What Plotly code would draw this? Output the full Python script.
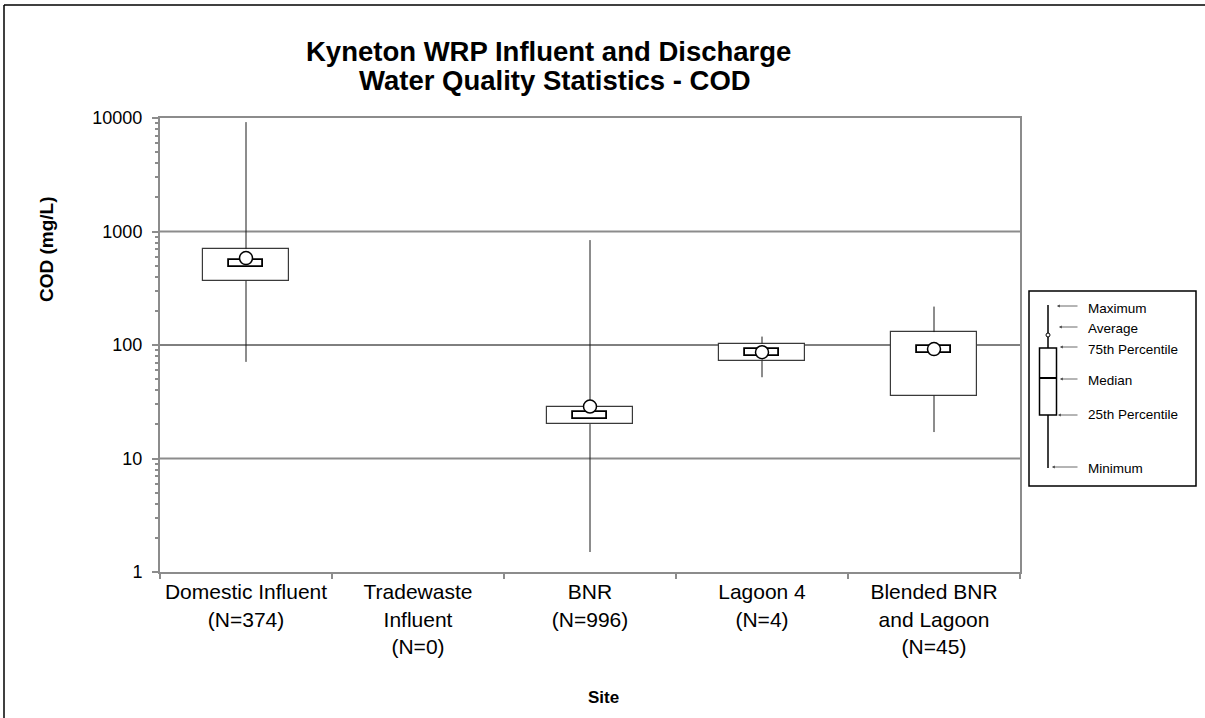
import numpy as np
import plotly.graph_objects as go

# ---------------- data ----------------
categories = ["Domestic Influent", "Tradewaste Influent", "BNR", "Lagoon 4", "Blended BNR and Lagoon"]
tick_labels = ["Domestic Influent<br>(N=374)", "Tradewaste<br>Influent<br>(N=0)", "BNR<br>(N=996)",
               "Lagoon 4<br>(N=4)", "Blended BNR<br>and Lagoon<br>(N=45)"]
n_samples = [374, 0, 996, 4, 45]
minimum = [71, None, 1.5, 52, 17.1]
q1 = [368, None, 20.1, 72.5, 35.9]
median = [527, None, 24.0, 86.4, 91.8]
q3 = [700, None, 28.7, 103, 130]
maximum = [9200, None, 840, 118.6, 218]
mean = [583, None, 28.7, 86.4, 92.0]

y_ticks = [1, 10, 100, 1000, 10000]
legend_items = ["Maximum", "Average", "75th Percentile", "Median", "25th Percentile", "Minimum"]

FONT = "Arial, Liberation Sans, sans-serif"
W, H = 1205, 718
ML, MR, MT, MB = 160, 185, 118, 146
PW, PH = W - ML - MR, H - MT - MB


def px(x):
    return (x - ML) / PW


def py(y):
    return (H - MB - y) / PH


fig = go.Figure()

# whiskers (outside the box only)
wx, wy = [], []
for c, lo, a, b, hi in zip(categories, minimum, q1, q3, maximum):
    if lo is None:
        continue
    wx += [c, c, None, c, c, None]
    wy += [b, hi, None, a, lo, None]
fig.add_trace(go.Scatter(x=wx, y=wy, mode="lines", line=dict(color="#1a1a1a", width=1),
                         hoverinfo="skip", showlegend=False))

# interquartile boxes
box_base = [a if a is not None else None for a in q1]
box_size = [(b - a) if a is not None else None for a, b in zip(q1, q3)]
fig.add_trace(go.Bar(x=categories, y=box_size, base=box_base, width=0.5,
                     marker=dict(color="white", line=dict(color="#3a3a3a", width=1.2)),
                     showlegend=False, name="IQR"))

# median marks (small rectangles)
f = 10 ** 0.031
med_base = [m / f if m is not None else None for m in median]
med_size = [m * f - m / f if m is not None else None for m in median]
fig.add_trace(go.Bar(x=categories, y=med_size, base=med_base, width=0.2,
                     marker=dict(color="white", line=dict(color="black", width=1.8)),
                     showlegend=False, name="Median"))

# average markers
fig.add_trace(go.Scatter(x=categories, y=mean, mode="markers",
                         marker=dict(symbol="circle", size=13, color="white",
                                     line=dict(color="black", width=1.5)),
                         showlegend=False, name="Average"))

shapes = []
# horizontal grid lines
for v in y_ticks[1:-1]:
    col, wd = ("black", 1) if v == 100 else ("#8c8c8c", 2)
    shapes.append(dict(type="line", xref="paper", yref="y", x0=0, x1=1, y0=v, y1=v,
                       line=dict(color=col, width=wd), layer="between"))

# outer chart border (left and top edges only are visible in the reference)
shapes.append(dict(type="line", xref="paper", yref="paper", x0=px(4), x1=px(4), y0=py(5), y1=py(760),
                   line=dict(color="black", width=1.5)))
shapes.append(dict(type="line", xref="paper", yref="paper", x0=px(4), x1=px(1260), y0=py(5), y1=py(5),
                   line=dict(color="black", width=1.5)))

# explanatory key
shapes.append(dict(type="rect", xref="paper", yref="paper", x0=px(1029), x1=px(1196), y0=py(291), y1=py(486),
                   line=dict(color="black", width=1.5), fillcolor="white"))
shapes.append(dict(type="line", xref="paper", yref="paper", x0=px(1048), x1=px(1048), y0=py(305), y1=py(468),
                   line=dict(color="black", width=1.5)))
shapes.append(dict(type="rect", xref="paper", yref="paper", x0=px(1039.5), x1=px(1056.5), y0=py(348), y1=py(415),
                   line=dict(color="black", width=1.5), fillcolor="white"))
shapes.append(dict(type="line", xref="paper", yref="paper", x0=px(1040), x1=px(1056), y0=py(378), y1=py(378),
                   line=dict(color="black", width=2)))
shapes.append(dict(type="circle", xref="paper", yref="paper", x0=px(1046), x1=px(1050), y0=py(333), y1=py(337),
                   line=dict(color="black", width=1), fillcolor="white"))

annotations = []
arrow_heads = [1057, 1059, 1060, 1060, 1058, 1052]
arrow_y = [306, 327, 347, 379, 415, 467]
label_y = [308, 328, 349, 380, 414, 468]
for lab, hx, ay_, ly in zip(legend_items, arrow_heads, arrow_y, label_y):
    annotations.append(dict(xref="paper", yref="paper", x=px(hx), y=py(ay_), text="", showarrow=True,
                            ax=1079 - hx, ay=0, arrowhead=2, arrowsize=0.7, arrowwidth=0.8,
                            arrowcolor="#444"))
    annotations.append(dict(xref="paper", yref="paper", x=px(1086), y=py(ly), text=lab, showarrow=False,
                            xanchor="left", yanchor="middle",
                            font=dict(family=FONT, size=13.5, color="black")))

# title
annotations.append(dict(xref="paper", yref="paper", x=px(548), y=py(52), text="<b>Kyneton WRP Influent and Discharge</b>",
                        showarrow=False, xanchor="center", yanchor="middle",
                        font=dict(family=FONT, size=27.5, color="black")))
annotations.append(dict(xref="paper", yref="paper", x=px(555), y=py(81), text="<b>Water Quality Statistics - COD</b>",
                        showarrow=False, xanchor="center", yanchor="middle",
                        font=dict(family=FONT, size=27.5, color="black")))
# axis titles
annotations.append(dict(xref="paper", yref="paper", x=px(46), y=py(249), text="<b>COD (mg/L)</b>",
                        showarrow=False, textangle=-90, xanchor="center", yanchor="middle",
                        font=dict(family=FONT, size=19, color="black")))
annotations.append(dict(xref="paper", yref="paper", x=px(603), y=py(697), text="<b>Site</b>",
                        showarrow=False, xanchor="center", yanchor="middle",
                        font=dict(family=FONT, size=17, color="black")))

fig.update_layout(
    width=W, height=H,
    margin=dict(l=ML, r=MR, t=MT, b=MB, pad=0, autoexpand=False),
    paper_bgcolor="white", plot_bgcolor="white",
    barmode="overlay", bargap=0,
    shapes=shapes, annotations=annotations,
    showlegend=False,
    font=dict(family=FONT, color="black"),
)
fig.update_xaxes(type="category", categoryorder="array", categoryarray=categories,
                 tickmode="array", tickvals=categories, ticktext=tick_labels,
                 tickson="boundaries", ticks="outside", ticklen=5, tickcolor="#8c8c8c", tickwidth=1.5,
                 showline=True, linecolor="#8c8c8c", linewidth=2, mirror=True,
                 showgrid=False, range=[-0.5, 4.5], tickangle=0, automargin=False,
                 tickfont=dict(family=FONT, size=21, color="black"))
fig.update_yaxes(type="log", range=[0, 4], tickmode="array", tickvals=y_ticks,
                 ticktext=[str(v) for v in y_ticks],
                 ticks="outside", ticklen=6, tickcolor="#8c8c8c", tickwidth=1.5,
                 minor=dict(ticks="outside", ticklen=3, tickcolor="#8c8c8c", dtick="D1", showgrid=False),
                 showline=True, linecolor="#8c8c8c", linewidth=2, mirror=True,
                 showgrid=False, zeroline=False, ticklabelstandoff=6, automargin=False,
                 tickfont=dict(family=FONT, size=18, color="black"))

fig.write_html("out.html", config={"displayModeBar": False},
               post_script="document.body.style.margin='0px';document.body.style.overflow='hidden';")
